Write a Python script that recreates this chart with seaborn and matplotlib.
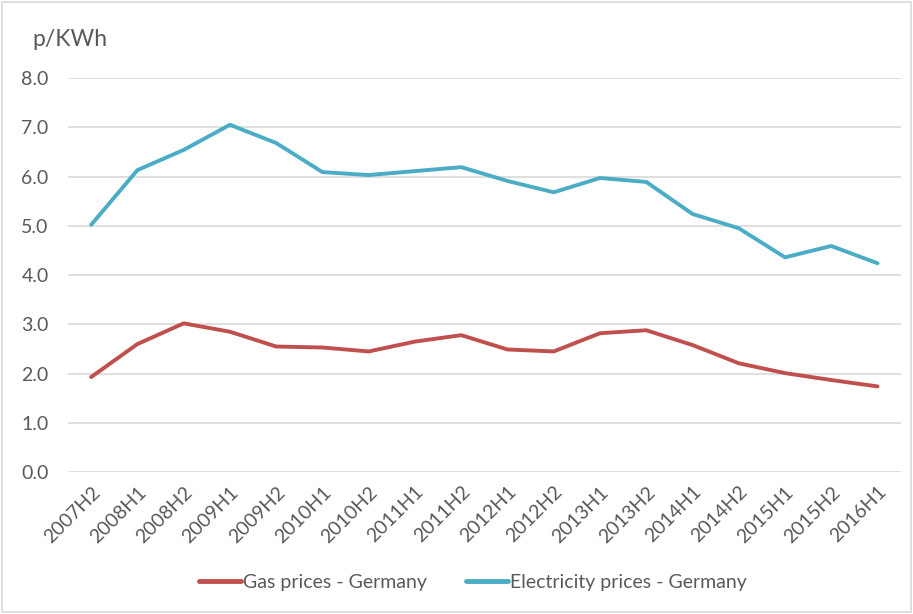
import pandas as pd
import matplotlib.pyplot as plt
import seaborn as sns

# data (p/KWh)
periods = ["2007H2", "2008H1", "2008H2", "2009H1", "2009H2", "2010H1",
           "2010H2", "2011H1", "2011H2", "2012H1", "2012H2", "2013H1",
           "2013H2", "2014H1", "2014H2", "2015H1", "2015H2", "2016H1"]
gas = [1.93, 2.60, 3.02, 2.85, 2.55, 2.53, 2.45, 2.65, 2.78, 2.49,
       2.45, 2.82, 2.88, 2.58, 2.21, 2.01, 1.87, 1.74]
electricity = [5.02, 6.13, 6.54, 7.05, 6.68, 6.09, 6.03, 6.11, 6.19, 5.91,
               5.68, 5.97, 5.89, 5.24, 4.95, 4.36, 4.59, 4.24]

series_names = ["Gas prices - Germany", "Electricity prices - Germany"]
colors = ["#C0504D", "#4BACC6"]

df = pd.DataFrame({
    "period": periods * 2,
    "price": gas + electricity,
    "series": [series_names[0]] * len(periods) + [series_names[1]] * len(periods),
})

sns.set_style("white")
plt.rcParams['font.family'] = ['Lato', 'DejaVu Sans']

fig = plt.figure(figsize=(9.13, 6.14), dpi=100)
ax = fig.add_axes([0.0745, 0.231, 0.912, 0.642])

sns.lineplot(data=df, x="period", y="price", hue="series",
             palette=colors, linewidth=2.8, sort=False, ax=ax, legend=True)

ax.set_xlim(-0.5, len(periods) - 0.5)
ax.set_ylim(0, 8)
ax.set_yticks([i * 1.0 for i in range(9)])
ax.set_yticklabels([f"{i:.1f}" for i in range(9)])
ax.yaxis.grid(True, color="#D9D9D9", linewidth=1.2)
ax.set_axisbelow(True)
for s in ax.spines.values():
    s.set_visible(False)
ax.tick_params(axis="both", length=0, labelsize=14, labelcolor="#595959")
ax.tick_params(axis="y", pad=14)
ax.tick_params(axis="x", pad=8)
plt.setp(ax.get_xticklabels(), rotation=45, ha="right", rotation_mode="anchor")
ax.set_xlabel("")
ax.set_ylabel("")

fig.text(0.035, 0.935, "p/KWh", fontsize=16.5, color="#595959", va="center")

leg = ax.legend(loc="center", bbox_to_anchor=(0.518, 0.052),
                bbox_transform=fig.transFigure, ncol=2, frameon=False,
                fontsize=14, handlelength=2.15, handletextpad=0.1,
                columnspacing=2.0)
for t in leg.get_texts():
    t.set_color("#595959")
for h in leg.get_lines():
    h.set_linewidth(3.5)

# light border round the whole chart
fig.patches.append(plt.Rectangle((0.002, 0.003), 0.996, 0.994, transform=fig.transFigure,
                                 fill=False, edgecolor="#D9D9D9", linewidth=1.2))

fig.savefig("out.png", dpi=100)
